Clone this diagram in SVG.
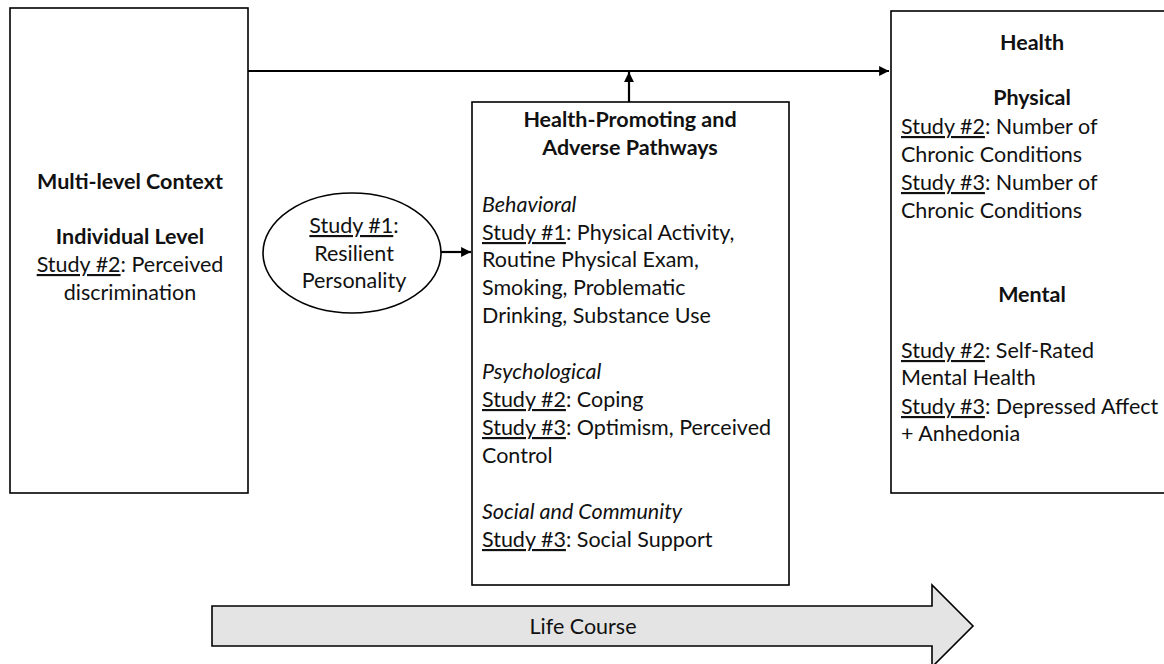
<svg xmlns="http://www.w3.org/2000/svg" width="1164" height="664" viewBox="0 0 1164 664">
  <style>
    .box { fill: #ffffff; stroke: #000000; stroke-width: 1.6; }
    .t { font-family: Lato, "Liberation Sans", sans-serif; font-size: 21.5px; fill: #111111; }
    .b { font-weight: bold; }
    .c { text-anchor: middle; }
    .i { font-style: italic; }
    .u { text-decoration: underline; }
    .link { stroke: #000000; stroke-width: 2.2; fill: none; }
  </style>
  <defs>
    <marker id="head" viewBox="0 0 10 10" refX="10" refY="5" markerWidth="4.5" markerHeight="4.5" orient="auto" markerUnits="strokeWidth">
      <path d="M0,0 L10,5 L0,10 z" fill="#000000"/>
    </marker>
  </defs>

  <!-- life course band -->
  <g id="life-course">
    <path d="M212,606 L932,606 L932,585 L973,626 L932,667 L932,646 L212,646 Z" fill="#e4e4e4" stroke="#000000" stroke-width="1.6"/>
    <text class="t" x="583" y="634" text-anchor="middle" fill="#222222">Life Course</text>
  </g>

  <!-- context -->
  <g id="context">
    <rect class="box" x="10" y="8" width="238" height="485"/>
    <text class="t b c" x="130" y="189">Multi-level Context</text>
    <text class="t b c" x="130" y="244">Individual Level</text>
    <text class="t c" x="130" y="272"><tspan class="u">Study #2</tspan>: Perceived</text>
    <text class="t c" x="130" y="300">discrimination</text>
  </g>

  <!-- personality -->
  <g id="personality">
    <ellipse cx="352" cy="253" rx="89" ry="60" fill="#ffffff" stroke="#000000" stroke-width="1.6"/>
    <text class="t c" x="354" y="233"><tspan class="u">Study #1</tspan>:</text>
    <text class="t c" x="354" y="261">Resilient</text>
    <text class="t c" x="354" y="288">Personality</text>
  </g>

  <!-- pathways -->
  <g id="pathways">
    <rect class="box" x="472" y="102" width="317" height="483"/>
    <text class="t b c" x="630" y="127">Health-Promoting and</text>
    <text class="t b c" x="630" y="155">Adverse Pathways</text>
    <text class="t i" x="482" y="212">Behavioral</text>
    <text class="t" x="482" y="240"><tspan class="u">Study #1</tspan>: Physical Activity,</text>
    <text class="t" x="482" y="267">Routine Physical Exam,</text>
    <text class="t" x="482" y="295">Smoking, Problematic</text>
    <text class="t" x="482" y="323">Drinking, Substance Use</text>
    <text class="t i" x="482" y="379">Psychological</text>
    <text class="t" x="482" y="407"><tspan class="u">Study #2</tspan>: Coping</text>
    <text class="t" x="482" y="435"><tspan class="u">Study #3</tspan>: Optimism, Perceived</text>
    <text class="t" x="482" y="463">Control</text>
    <text class="t i" x="482" y="519">Social and Community</text>
    <text class="t" x="482" y="547"><tspan class="u">Study #3</tspan>: Social Support</text>
  </g>

  <!-- health outcomes -->
  <g id="health">
    <rect class="box" x="891" y="11" width="290" height="482"/>
    <text class="t b c" x="1032" y="50">Health</text>
    <text class="t b c" x="1032" y="105">Physical</text>
    <text class="t" x="901" y="134"><tspan class="u">Study #2</tspan>: Number of</text>
    <text class="t" x="901" y="162">Chronic Conditions</text>
    <text class="t" x="901" y="190"><tspan class="u">Study #3</tspan>: Number of</text>
    <text class="t" x="901" y="218">Chronic Conditions</text>
    <text class="t b c" x="1032" y="302">Mental</text>
    <text class="t" x="901" y="358"><tspan class="u">Study #2</tspan>: Self-Rated</text>
    <text class="t" x="901" y="385">Mental Health</text>
    <text class="t" x="901" y="414"><tspan class="u">Study #3</tspan>: Depressed Affect</text>
    <text class="t" x="901" y="441">+ Anhedonia</text>
  </g>

  <!-- connectors -->
  <g id="connectors">
    <line class="link" x1="248" y1="71" x2="889" y2="71" marker-end="url(#head)"/>
    <line class="link" x1="629" y1="102" x2="629" y2="72" marker-end="url(#head)"/>
    <line class="link" x1="441" y1="252" x2="471" y2="252" marker-end="url(#head)"/>
  </g>
</svg>
